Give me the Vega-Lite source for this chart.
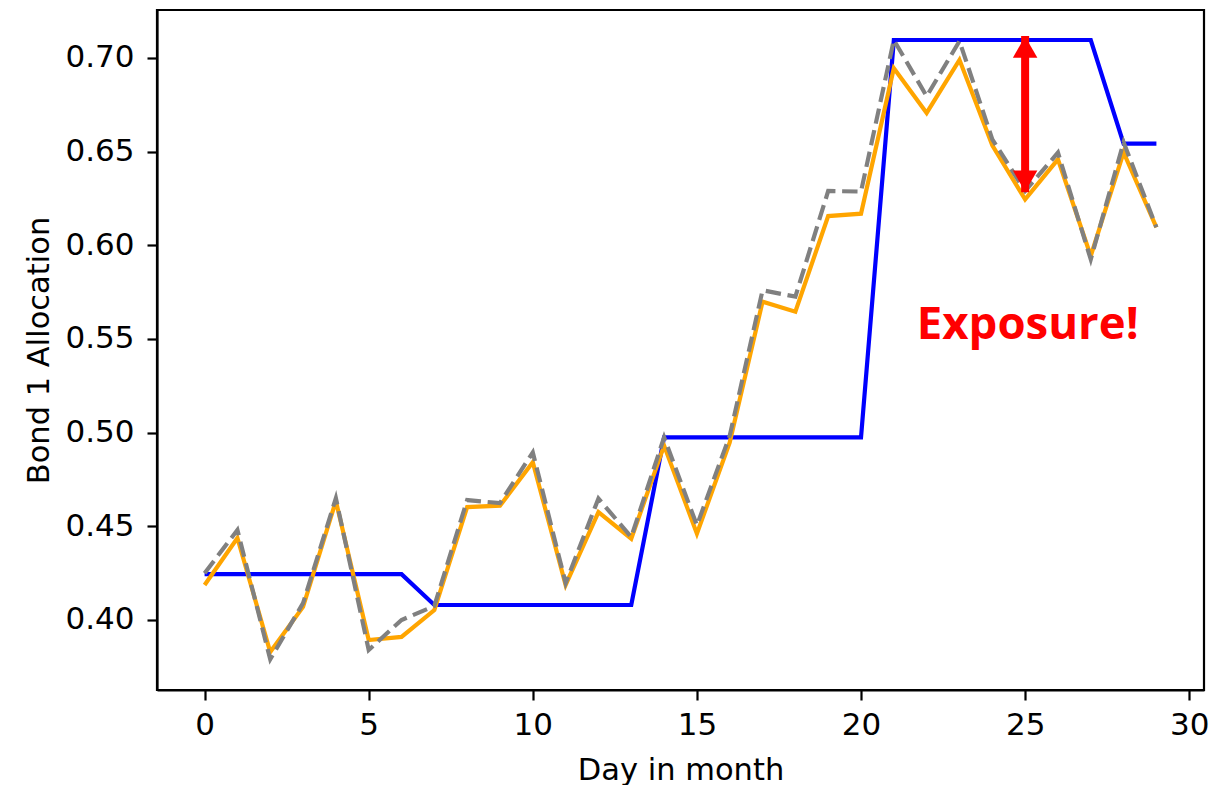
{
  "$schema": "https://vega.github.io/schema/vega-lite/v6.json",
  "autosize": {"type": "none"},
  "width": 1047,
  "height": 680,
  "padding": {"left": 157, "top": 10, "right": 12, "bottom": 95},
  "background": "white",
  "config": {
    "view": {"stroke": "black", "strokeWidth": 2.2},
    "font": "DejaVu Sans",
    "axis": {
      "grid": false,
      "domainColor": "black",
      "domainWidth": 2.2,
      "tickColor": "black",
      "tickWidth": 2.2,
      "tickSize": 10,
      "labelFont": "DejaVu Sans",
      "labelFontSize": 31,
      "labelColor": "black",
      "titleFont": "DejaVu Sans",
      "titleFontSize": 30.5,
      "titleFontWeight": "normal",
      "titleColor": "black"
    }
  },
  "datasets": {
    "series": [
      {"day": 0, "series": "rebalanced", "value": 0.4245},
      {"day": 1, "series": "rebalanced", "value": 0.4245},
      {"day": 2, "series": "rebalanced", "value": 0.4245},
      {"day": 3, "series": "rebalanced", "value": 0.4245},
      {"day": 4, "series": "rebalanced", "value": 0.4245},
      {"day": 5, "series": "rebalanced", "value": 0.4245},
      {"day": 6, "series": "rebalanced", "value": 0.4245},
      {"day": 7, "series": "rebalanced", "value": 0.408},
      {"day": 8, "series": "rebalanced", "value": 0.408},
      {"day": 9, "series": "rebalanced", "value": 0.408},
      {"day": 10, "series": "rebalanced", "value": 0.408},
      {"day": 11, "series": "rebalanced", "value": 0.408},
      {"day": 12, "series": "rebalanced", "value": 0.408},
      {"day": 13, "series": "rebalanced", "value": 0.408},
      {"day": 14, "series": "rebalanced", "value": 0.4975},
      {"day": 15, "series": "rebalanced", "value": 0.4975},
      {"day": 16, "series": "rebalanced", "value": 0.4975},
      {"day": 17, "series": "rebalanced", "value": 0.4975},
      {"day": 18, "series": "rebalanced", "value": 0.4975},
      {"day": 19, "series": "rebalanced", "value": 0.4975},
      {"day": 20, "series": "rebalanced", "value": 0.4975},
      {"day": 21, "series": "rebalanced", "value": 0.7096},
      {"day": 22, "series": "rebalanced", "value": 0.7096},
      {"day": 23, "series": "rebalanced", "value": 0.7096},
      {"day": 24, "series": "rebalanced", "value": 0.7096},
      {"day": 25, "series": "rebalanced", "value": 0.7096},
      {"day": 26, "series": "rebalanced", "value": 0.7096},
      {"day": 27, "series": "rebalanced", "value": 0.7096},
      {"day": 28, "series": "rebalanced", "value": 0.6543},
      {"day": 29, "series": "rebalanced", "value": 0.6543},
      {"day": 0, "series": "actual", "value": 0.4187},
      {"day": 1, "series": "actual", "value": 0.4438},
      {"day": 2, "series": "actual", "value": 0.3829},
      {"day": 3, "series": "actual", "value": 0.407},
      {"day": 4, "series": "actual", "value": 0.4635},
      {"day": 5, "series": "actual", "value": 0.3893},
      {"day": 6, "series": "actual", "value": 0.391},
      {"day": 7, "series": "actual", "value": 0.4053},
      {"day": 8, "series": "actual", "value": 0.4603},
      {"day": 9, "series": "actual", "value": 0.461},
      {"day": 10, "series": "actual", "value": 0.4842},
      {"day": 11, "series": "actual", "value": 0.4187},
      {"day": 12, "series": "actual", "value": 0.4576},
      {"day": 13, "series": "actual", "value": 0.4434},
      {"day": 14, "series": "actual", "value": 0.4931},
      {"day": 15, "series": "actual", "value": 0.4461},
      {"day": 16, "series": "actual", "value": 0.4948},
      {"day": 17, "series": "actual", "value": 0.5699},
      {"day": 18, "series": "actual", "value": 0.5646},
      {"day": 19, "series": "actual", "value": 0.6156},
      {"day": 20, "series": "actual", "value": 0.6169},
      {"day": 21, "series": "actual", "value": 0.6945},
      {"day": 22, "series": "actual", "value": 0.6707},
      {"day": 23, "series": "actual", "value": 0.699},
      {"day": 24, "series": "actual", "value": 0.6534},
      {"day": 25, "series": "actual", "value": 0.6245},
      {"day": 26, "series": "actual", "value": 0.6459},
      {"day": 27, "series": "actual", "value": 0.5943},
      {"day": 28, "series": "actual", "value": 0.6496},
      {"day": 29, "series": "actual", "value": 0.6096},
      {"day": 0, "series": "ideal", "value": 0.425},
      {"day": 1, "series": "ideal", "value": 0.448},
      {"day": 2, "series": "ideal", "value": 0.379},
      {"day": 3, "series": "ideal", "value": 0.409},
      {"day": 4, "series": "ideal", "value": 0.465},
      {"day": 5, "series": "ideal", "value": 0.384},
      {"day": 6, "series": "ideal", "value": 0.4},
      {"day": 7, "series": "ideal", "value": 0.4075},
      {"day": 8, "series": "ideal", "value": 0.464},
      {"day": 9, "series": "ideal", "value": 0.4624},
      {"day": 10, "series": "ideal", "value": 0.4895},
      {"day": 11, "series": "ideal", "value": 0.4197},
      {"day": 12, "series": "ideal", "value": 0.4648},
      {"day": 13, "series": "ideal", "value": 0.4443},
      {"day": 14, "series": "ideal", "value": 0.4975},
      {"day": 15, "series": "ideal", "value": 0.4505},
      {"day": 16, "series": "ideal", "value": 0.4984},
      {"day": 17, "series": "ideal", "value": 0.576},
      {"day": 18, "series": "ideal", "value": 0.5726},
      {"day": 19, "series": "ideal", "value": 0.629},
      {"day": 20, "series": "ideal", "value": 0.6287},
      {"day": 21, "series": "ideal", "value": 0.7096},
      {"day": 22, "series": "ideal", "value": 0.6796},
      {"day": 23, "series": "ideal", "value": 0.709},
      {"day": 24, "series": "ideal", "value": 0.6566},
      {"day": 25, "series": "ideal", "value": 0.629},
      {"day": 26, "series": "ideal", "value": 0.6495},
      {"day": 27, "series": "ideal", "value": 0.5925},
      {"day": 28, "series": "ideal", "value": 0.655},
      {"day": 29, "series": "ideal", "value": 0.6096}
    ],
    "arrow": [
      {"day": 25, "top": 0.7117, "bottom": 0.6284}
    ],
    "note": [
      {"day": 25.08, "value": 0.5575, "label": "Exposure!"}
    ]
  },
  "data": {"name": "series"},
  "encoding": {
    "x": {
      "field": "day", "type": "quantitative",
      "scale": {"domain": [-1.45, 30.45], "nice": false, "zero": false},
      "axis": {
        "values": [0, 5, 10, 15, 20, 25, 30],
        "title": "Day in month",
        "labelPadding": 10,
        "titleBaseline": "alphabetic",
        "titleY": 89,
        "titlePadding": 0
      }
    },
    "y": {
      "field": "value", "type": "quantitative",
      "scale": {"domain": [0.36263, 0.72562], "nice": false, "zero": false},
      "axis": {
        "values": [0.4, 0.45, 0.5, 0.55, 0.6, 0.65, 0.7],
        "format": ".2f",
        "title": "Bond 1 Allocation",
        "labelPadding": 13,
        "titleAngle": -90,
        "titleBaseline": "alphabetic",
        "titleX": -109,
        "titleY": 340,
        "titleAlign": "center"
      }
    }
  },
  "layer": [
    {
      "transform": [{"filter": "datum.series === 'rebalanced'"}],
      "mark": {"type": "line", "color": "#0000ff", "strokeWidth": 4.2, "clip": true}
    },
    {
      "transform": [{"filter": "datum.series === 'actual'"}],
      "mark": {"type": "line", "color": "#ffa500", "strokeWidth": 4.2, "clip": true}
    },
    {
      "transform": [{"filter": "datum.series === 'ideal'"}],
      "mark": {"type": "line", "color": "#808080", "strokeWidth": 4.2, "strokeDash": [15.4, 6.7], "clip": true}
    },
    {
      "data": {"name": "arrow"},
      "mark": {"type": "rule", "color": "#ff0000", "strokeWidth": 8},
      "encoding": {
        "x": {"field": "day", "type": "quantitative"},
        "y": {"field": "top", "type": "quantitative"},
        "y2": {"field": "bottom"}
      }
    },
    {
      "data": {"name": "arrow"},
      "mark": {"type": "point", "shape": "triangle-up", "filled": true, "color": "#ff0000", "size": 600, "opacity": 1, "yOffset": 11},
      "encoding": {
        "x": {"field": "day", "type": "quantitative"},
        "y": {"field": "top", "type": "quantitative"}
      }
    },
    {
      "data": {"name": "arrow"},
      "mark": {"type": "point", "shape": "triangle-down", "filled": true, "color": "#ff0000", "size": 600, "opacity": 1, "yOffset": -11},
      "encoding": {
        "x": {"field": "day", "type": "quantitative"},
        "y": {"field": "bottom", "type": "quantitative"}
      }
    },
    {
      "data": {"name": "note"},
      "mark": {"type": "text", "color": "#ff0000", "font": "Open Sans", "fontWeight": "bold", "fontSize": 45.5, "align": "center", "baseline": "middle"},
      "encoding": {
        "x": {"field": "day", "type": "quantitative"},
        "y": {"field": "value", "type": "quantitative"},
        "text": {"field": "label"}
      }
    }
  ]
}
